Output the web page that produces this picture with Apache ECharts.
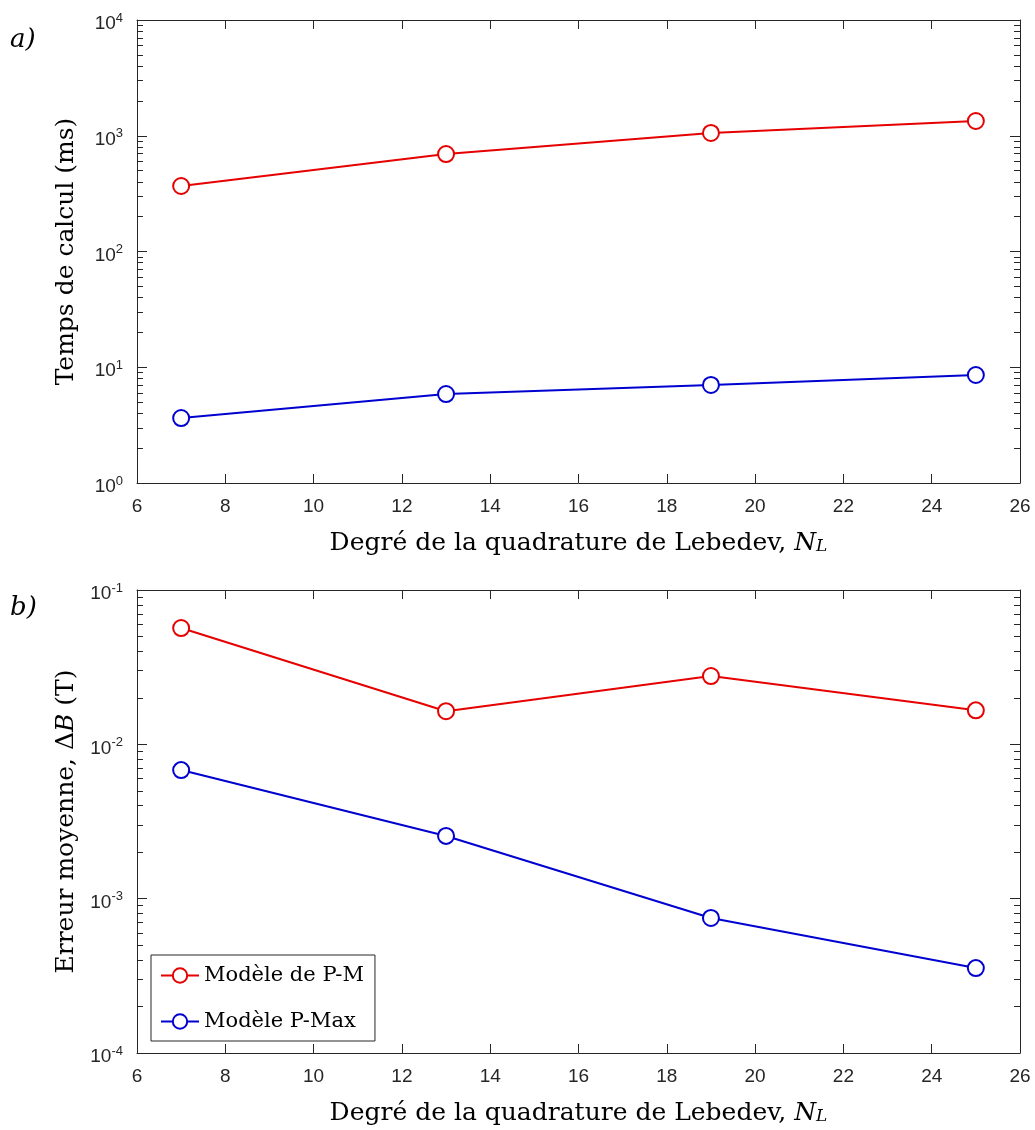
<!DOCTYPE html>
<html><head><meta charset="utf-8">
<script src="https://cdn.jsdelivr.net/npm/echarts@6/dist/echarts.min.js"></script>
<style>html,body{margin:0;padding:0;background:#fff}#c{width:1035px;height:1130px}</style>
</head><body><div id="c"></div>
<script>
// ---- data ----
const degrees = [7, 13, 19, 25];
const timePM = [368, 695, 1057, 1341];
const timePMax = [3.64, 5.87, 7.03, 8.57];
const errPM = [0.0567, 0.0164, 0.0277, 0.0166];
const errPMax = [0.00681, 0.00255, 0.00075, 0.000355];
const seriesNames = ['Modèle de P-M', 'Modèle P-Max'];
const xTitle = 'Degré de la quadrature de Lebedev, {i|N}{sub|L}';
const yTitleTop = 'Temps de calcul (ms)';
const yTitleBottom = 'Erreur moyenne, Δ{i|B} (T)';
const panelLabels = ['a)', 'b)'];
const xMin = 6, xMax = 26, xStep = 2;
const topExp = [0, 4];
const botExp = [-4, -1];

// ---- style ----
const RED = '#e60000', BLUE = '#0000d0', AX = '#262626';
const SERIF = '"DejaVu Serif", "Liberation Serif", serif';
const SANS = '"Liberation Sans", Arial, sans-serif';
const TFS = 25;

function minorValues(e0, e1) {
  const out = [];
  for (let k = e0; k < e1; k++) for (let m = 2; m <= 9; m++) out.push(m * Math.pow(10, k));
  return out;
}
const axisLine = {show: true, lineStyle: {color: AX, width: 1}};
const titleRich = {
  i: {fontFamily: SERIF, fontStyle: 'italic', fontSize: TFS, color: '#000'},
  sub: {fontFamily: SERIF, fontStyle: 'italic', fontSize: 17, color: '#000', padding: [0, 0, -7, 0]}
};
function expLabel(v) {
  const e = Math.round(Math.log10(v));
  return '10{sup|' + e + '}';
}
const labelRich = {sup: {fontFamily: SANS, fontSize: 13, color: AX, padding: [0, 0, 12, 0]}};

function xAxes(gi) {
  return [
    {type: 'value', gridIndex: gi, position: 'bottom', min: xMin, max: xMax, interval: xStep,
     axisLine, splitLine: {show: false},
     axisTick: {inside: true, length: 9, lineStyle: {color: AX}},
     axisLabel: {fontFamily: SANS, fontSize: 19, color: AX, margin: 14},
     name: xTitle, nameLocation: 'middle', nameGap: 48,
     nameTextStyle: {fontFamily: SERIF, fontSize: TFS, color: '#000', rich: titleRich}},
    {type: 'value', gridIndex: gi, position: 'top', min: xMin, max: xMax, interval: xStep,
     axisLine, splitLine: {show: false},
     axisTick: {inside: true, length: 9, lineStyle: {color: AX}},
     axisLabel: {show: false}}
  ];
}
function yAxes(gi, exps, title) {
  const min = Math.pow(10, exps[0]), max = Math.pow(10, exps[1]);
  const minors = minorValues(exps[0], exps[1]);
  const base = {type: 'log', logBase: 10, gridIndex: gi, min, max, interval: 1, splitLine: {show: false}};
  return [
    Object.assign({}, base, {position: 'left', axisLine,
      axisTick: {inside: true, length: 10, lineStyle: {color: AX}},
      axisLabel: {fontFamily: SANS, fontSize: 19, color: AX, margin: 14, padding: [8, 0, 0, 0],
        formatter: expLabel, rich: labelRich},
      name: title, nameLocation: 'middle', nameGap: 58,
      nameTextStyle: {fontFamily: SERIF, fontSize: TFS, color: '#000', rich: titleRich}}),
    Object.assign({}, base, {position: 'left', axisLine: {show: false},
      axisTick: {inside: true, length: 6, lineStyle: {color: AX}, customValues: minors},
      axisLabel: {show: false}}),
    Object.assign({}, base, {position: 'right', axisLine,
      axisTick: {inside: true, length: 10, lineStyle: {color: AX}},
      axisLabel: {show: false}}),
    Object.assign({}, base, {position: 'right', axisLine: {show: false},
      axisTick: {inside: true, length: 6, lineStyle: {color: AX}, customValues: minors},
      axisLabel: {show: false}})
  ];
}
function mkSeries(name, xs, ys, color, xi, yi) {
  return {type: 'line', name, xAxisIndex: xi, yAxisIndex: yi,
    data: xs.map((x, i) => [x, ys[i]]),
    symbol: 'circle', symbolSize: 16, showSymbol: true,
    lineStyle: {color, width: 2}, itemStyle: {color: '#fff', borderColor: color, borderWidth: 2},
    emphasis: {disabled: true}, z: 3};
}

const chart = echarts.init(document.getElementById('c'), null, {renderer: 'canvas'});
chart.setOption({
  animation: false,
  backgroundColor: '#fff',
  grid: [
    {left: 137, right: 15, top: 20, height: 463},
    {left: 137, right: 15, top: 590, height: 463}
  ],
  xAxis: [...xAxes(0), ...xAxes(1)],
  yAxis: [...yAxes(0, topExp, yTitleTop), ...yAxes(1, botExp, yTitleBottom)],
  legend: {
    data: seriesNames, orient: 'vertical', left: 151, top: 955,
    itemWidth: 38, itemHeight: 18, itemGap: 21,
    padding: [8, 11, 7, 9], borderColor: AX, borderWidth: 1, backgroundColor: '#fff',
    textStyle: {fontFamily: SERIF, fontSize: 21, color: '#000', lineHeight: 25},
    selectedMode: false
  },
  series: [
    mkSeries(seriesNames[0], degrees, timePM, RED, 0, 0),
    mkSeries(seriesNames[1], degrees, timePMax, BLUE, 0, 0),
    mkSeries(seriesNames[0], degrees, errPM, RED, 2, 4),
    mkSeries(seriesNames[1], degrees, errPMax, BLUE, 2, 4)
  ],
  graphic: [
    {type: 'text', left: 10, top: 27, style: {text: panelLabels[0], fontFamily: SERIF, fontStyle: 'italic', fontSize: 26, fill: '#000'}},
    {type: 'text', left: 10, top: 595, style: {text: panelLabels[1], fontFamily: SERIF, fontStyle: 'italic', fontSize: 26, fill: '#000'}}
  ]
});
</script>
</body></html>
